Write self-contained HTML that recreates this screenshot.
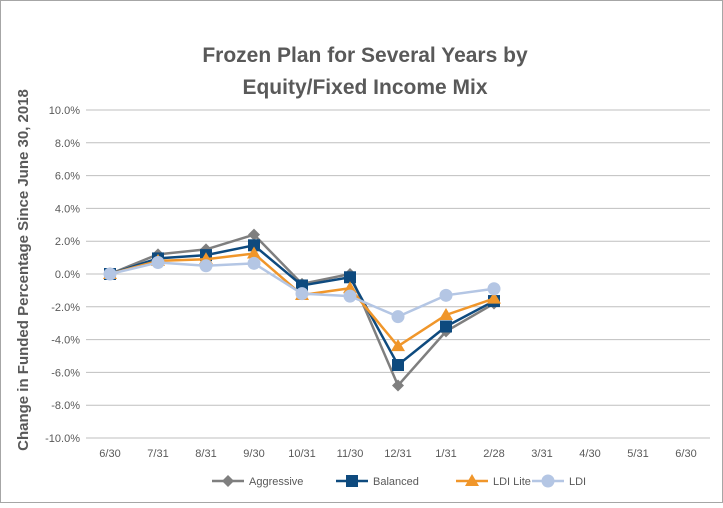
<!DOCTYPE html>
<html><head><meta charset="utf-8"><style>
body{margin:0;background:#fff;}
svg text{font-family:"Liberation Sans",sans-serif;}
</style></head><body>
<svg id="chart" width="723" height="503" viewBox="0 0 723 503" xmlns="http://www.w3.org/2000/svg">
<rect x="0.5" y="0.5" width="722" height="502" fill="#fff" stroke="#a6a6a6"/>
<text x="365" y="62" text-anchor="middle" font-size="21" font-weight="bold" fill="#595959">Frozen Plan for Several Years by</text>
<text x="365" y="94" text-anchor="middle" font-size="21" font-weight="bold" fill="#595959">Equity/Fixed Income Mix</text>
<text transform="translate(28,270) rotate(-90)" text-anchor="middle" font-size="15" font-weight="bold" fill="#595959">Change in Funded Percentage Since June 30, 2018</text>
<g id="grid"></g><g id="ylabels"></g><g id="xlabels"></g><g id="series"></g><g id="legend"></g>
</svg>
<script>
const categories=["6/30","7/31","8/31","9/30","10/31","11/30","12/31","1/31","2/28","3/31","4/30","5/31","6/30"];
const yTicks=[10,8,6,4,2,0,-2,-4,-6,-8,-10];
const seriesNames=["Aggressive","Balanced","LDI Lite","LDI"];
const aggressive=[0,1.2,1.5,2.4,-0.6,0.0,-6.8,-3.5,-1.8];
const balanced=[0,0.95,1.15,1.75,-0.7,-0.2,-5.55,-3.2,-1.65];
const ldiLite=[0,0.8,0.9,1.25,-1.28,-0.87,-4.4,-2.5,-1.5];
const ldi=[0,0.7,0.5,0.65,-1.2,-1.35,-2.6,-1.3,-0.9];
const NS="http://www.w3.org/2000/svg";
const yScale=v=>274-v*16.4;
const xScale=i=>110+i*48;
function mk(tag,attrs,parent){const e=document.createElementNS(NS,tag);for(const k in attrs)e.setAttribute(k,attrs[k]);parent.appendChild(e);return e;}
const grid=document.getElementById('grid'),yl=document.getElementById('ylabels'),xl=document.getElementById('xlabels');
yTicks.forEach(t=>{
 const l=mk('line',{x1:86,x2:710,y1:yScale(t),y2:yScale(t),stroke:'#bfbfbf','stroke-width':1},grid);
 
 
 const tx=mk('text',{x:80,y:yScale(t)+4,'text-anchor':'end','font-size':11,fill:'#595959'},yl);
 tx.textContent=t.toFixed(1)+'%';
 
 
});
categories.forEach((c,i)=>{
 const tx=mk('text',{x:xScale(i),y:457,'text-anchor':'middle','font-size':11,fill:'#595959'},xl);
 tx.textContent=c;
 
 
});
const colors=['#7f7f7f','#0e4a7e','#f0962a','#b4c6e4'];
const shapes=['diamond','square','triangle','circle'];
function marker(g,shape,x,y,col){
 let e;
 if(shape==='diamond')e=mk('polygon',{points:`${x},${y-6} ${x+6},${y} ${x},${y+6} ${x-6},${y}`,fill:col},g);
 else if(shape==='square')e=mk('rect',{x:x-6,y:y-6,width:12,height:12,fill:col},g);
 else if(shape==='triangle')e=mk('polygon',{points:`${x},${y-7} ${x+7},${y+5} ${x-7},${y+5}`,fill:col},g);
 else e=mk('circle',{cx:x,cy:y,r:6.5,fill:col},g);
 return e;
}
const sg=document.getElementById('series');
[aggressive,balanced,ldiLite,ldi].forEach((arr,s)=>{
 const g=mk('g',{},sg);
 
 
 const p=mk('polyline',{points:arr.map((v,i)=>xScale(i)+','+yScale(v)).join(' '),fill:'none',stroke:colors[s],'stroke-width':2.5},g);
 
 
 arr.forEach((v,i)=>{
  const m=marker(g,shapes[s],xScale(i),yScale(v),colors[s]);
  
  
 });
});
const lg=document.getElementById('legend');
const lx=[212,336,456,532];
seriesNames.forEach((n,s)=>{
 const g=mk('g',{},lg);
 
 
 mk('line',{x1:lx[s],x2:lx[s]+32,y1:481,y2:481,stroke:colors[s],'stroke-width':2.5},g);
 marker(g,shapes[s],lx[s]+16,481,colors[s]);
 const t=mk('text',{x:lx[s]+37,y:485,'font-size':11,fill:'#595959'},g);
 t.textContent=n;
});
</script>
</body></html>
